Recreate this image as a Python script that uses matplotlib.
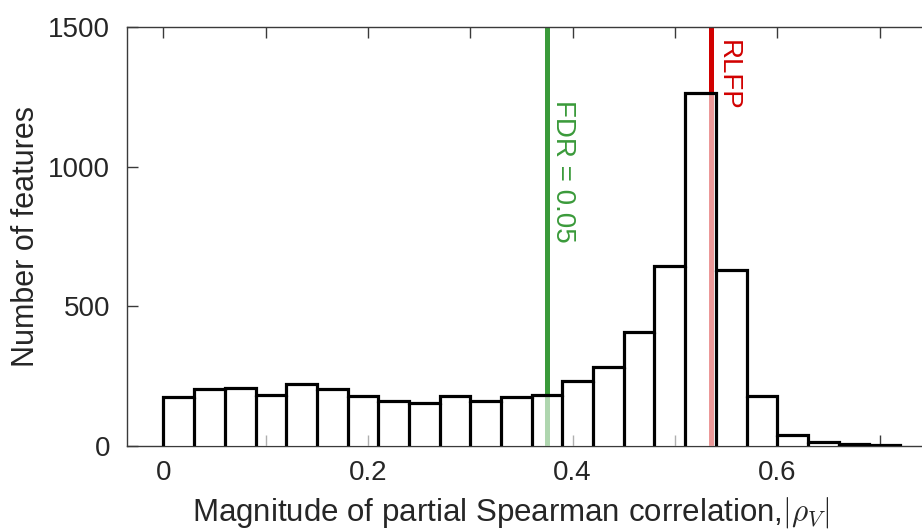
import numpy as np
import matplotlib
matplotlib.use('Agg')
import matplotlib.pyplot as plt

# histogram of |rho_V|, bin width 0.03
bin_edges = np.round(np.arange(0, 0.72 + 0.001, 0.03), 2)
counts = np.array([174, 203, 208, 184, 221, 205, 179, 160, 155, 179, 161, 174,
                   184, 233, 284, 409, 644, 1262, 629, 179, 39, 14, 8, 4])

fdr_threshold = 0.375
rlfp_value = 0.535

plt.rcParams['font.family'] = ['Liberation Sans', 'DejaVu Sans']
plt.rcParams['mathtext.fontset'] = 'cm'

green = '#3a9a3a'
red = '#d10000'
text_gray = '#262626'

fig = plt.figure(figsize=(9.22, 5.32), dpi=100)
ax = fig.add_axes([0.1377, 0.1617, 0.8623, 0.7875])

# threshold lines sit under the semi-transparent bars
ax.axvline(fdr_threshold, color=green, lw=3.6, zorder=1)
ax.axvline(rlfp_value, color=red, lw=3.6, zorder=1)

ax.stairs(counts, bin_edges, fill=True, color=(1, 1, 1, 0.6), zorder=3)
ax.stairs(counts, bin_edges, baseline=0, fill=False, color='black', lw=2.3, zorder=4)
ax.vlines(bin_edges[1:-1], 0, np.minimum(counts[:-1], counts[1:]),
          color='black', lw=2.3, zorder=4)

ax.text(fdr_threshold + 0.003, 1238, 'FDR = 0.05', rotation=-90, color=green,
        fontsize=20, ha='left', va='top')
ax.text(rlfp_value + 0.004, 1453, 'RLFP', rotation=-90, color=red,
        fontsize=20, ha='left', va='top')

ax.set_xlim(-0.0357, 0.7415)
ax.set_ylim(0, 1500)
ax.set_xticks(np.arange(0, 0.71, 0.1))
ax.set_xticklabels(['0', '', '0.2', '', '0.4', '', '0.6', ''])
ax.set_yticks([0, 500, 1000, 1500])

for side in ['left', 'top', 'bottom']:
    ax.spines[side].set_color('#3a3a3a')
    ax.spines[side].set_linewidth(1.0)
ax.spines['right'].set_visible(False)

ax.tick_params(direction='in', length=8, width=1, color='#3a3a3a',
               labelsize=20, labelcolor=text_gray, top=True, pad=10)
ax.tick_params(axis='y', pad=12)

ax.set_xlabel('Magnitude of partial Spearman correlation,$|\\rho_V|$',
              fontsize=22.5, color=text_gray)
ax.xaxis.set_label_coords(0.482, -0.118)
ax.set_ylabel('Number of features', fontsize=22, color=text_gray, labelpad=5)

fig.savefig('out.png', dpi=100)
